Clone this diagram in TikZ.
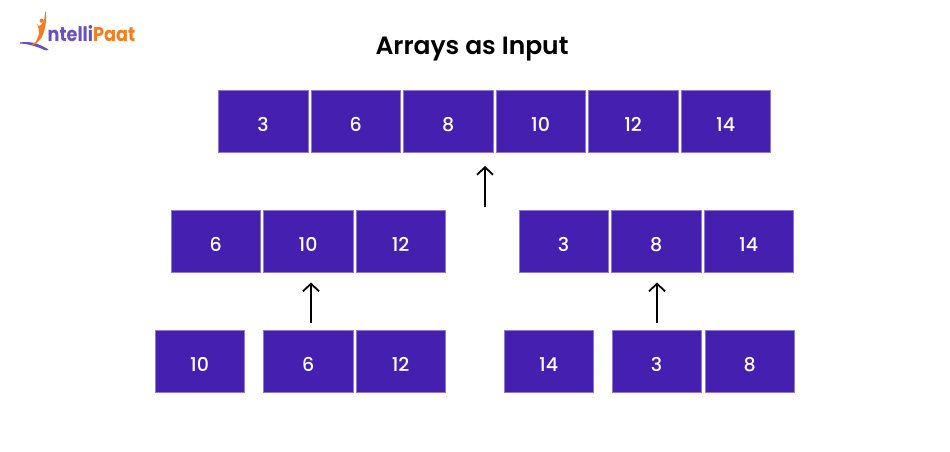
\documentclass[tikz,border=0pt]{standalone}
\usepackage{fontspec}
\setmainfont{Poppins}
\newfontfamily\semibold{Poppins SemiBold}
\newfontfamily\medium{Poppins Medium}
\usetikzlibrary{arrows.meta}
\definecolor{cell}{HTML}{451FAF}
\definecolor{celledge}{HTML}{8F78D2}
\definecolor{logopurple}{HTML}{6A4FBF}
\definecolor{logoorange}{HTML}{F57C1F}
\tikzset{
 cellbox/.style={draw=celledge,line width=0.5pt,fill=cell,text=white,minimum width=89.6pt,minimum height=62.3pt,inner sep=0pt,text height=20pt,text depth=0pt,xshift=-0.4pt,font=\fontsize{19}{20}\medium},
 uparrow/.style={draw=black,line width=2pt,-{Straight Barb[length=7.5pt,width=16pt,line width=1.8pt]}},
 titletext/.style={inner sep=0pt,font=\fontsize{25}{27}\semibold,text=black},
 logotext/.style={inner sep=0pt,anchor=base west,xscale=0.88,font=\fontsize{20}{24}\selectfont\bfseries}
}
\begin{document}
\begin{tikzpicture}[x=1pt,y=-1pt]
\useasboundingbox (0,0) rectangle (950,451);
\fill[white] (0,0) rectangle (950,451);
% logo
\fill[logopurple] (20,42.5) .. controls (30,41) and (38,43) .. (48.5,49.5) .. controls (48,51) and (46,50.5) .. (44,49.8) .. controls (36,46) and (28,44) .. (20,43.5) -- cycle;
\fill[logoorange] (45.3,11.5) -- (46,11.5) -- (46,22) -- (44.5,30) -- (42,37) -- (36,44) -- (31,45.5) -- (36,41.5) -- (39,34) -- (38.5,28) -- (37,24) -- (39,26) -- (41,25) -- (44,21) -- cycle;
\fill[logoorange] (41.7,20.7) circle (2.1);
\node[logotext,text=logopurple] (lg1) at (47.5,41.7) {ntelli};
\node[logotext,text=logoorange] (lg2) at (93,41.7) {Paat};
% title
\node[titletext] (title) at (472,49) {Arrays as Input};
% top row
\node[cellbox] (t1) at (263.5,121.3) {3};
\node[cellbox] (t2) at (356,121.3) {6};
\node[cellbox] (t3) at (448.5,121.3) {8};
\node[cellbox] (t4) at (541,121.3) {10};
\node[cellbox] (t5) at (633.5,121.3) {12};
\node[cellbox] (t6) at (726,121.3) {14};
% middle row
\node[cellbox] (m1) at (216,241.3) {6};
\node[cellbox] (m2) at (308.5,241.3) {10};
\node[cellbox] (m3) at (401,241.3) {12};
\node[cellbox] (m4) at (564,241.3) {3};
\node[cellbox] (m5) at (656.5,241.3) {8};
\node[cellbox] (m6) at (749,241.3) {14};
% bottom row
\node[cellbox] (b1) at (200,361.5) {10};
\node[cellbox] (b2) at (308.5,361.5) {6};
\node[cellbox] (b3) at (401,361.5) {12};
\node[cellbox] (b4) at (549,361.5) {14};
\node[cellbox] (b5) at (657,361.5) {3};
\node[cellbox] (b6) at (750,361.5) {8};
% arrows
\coordinate (a1s) at (485,207);
\coordinate (a1e) at (485,166);
\coordinate (a2s) at (311,323);
\coordinate (a2e) at (311,282.5);
\coordinate (a3s) at (657,323);
\coordinate (a3e) at (657,282.5);
\draw[uparrow] (a1s) -- (a1e);
\draw[uparrow] (a2s) -- (a2e);
\draw[uparrow] (a3s) -- (a3e);
\end{tikzpicture}
\end{document}
